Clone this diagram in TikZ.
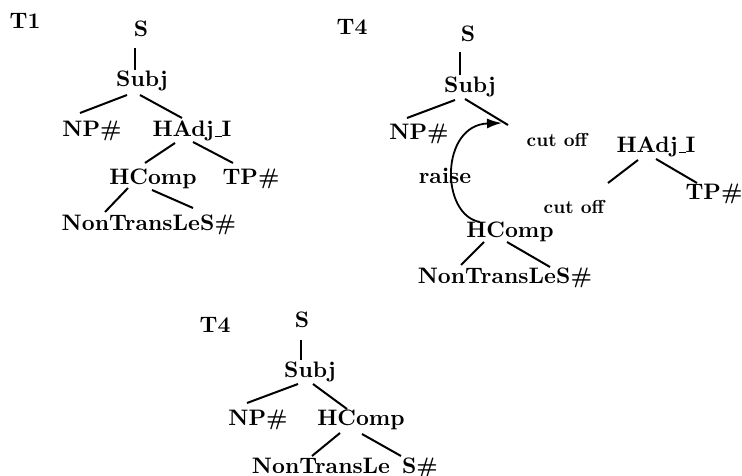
\documentclass[tikz,border=0pt]{standalone}
\usepackage{fontspec}
\usetikzlibrary{calc,arrows.meta}
% Latin Modern bold in its 10pt design, scaled up
\newfontfamily\treefont{lmroman10-bold}[Extension=.otf]
% baseline-level underscore in the OT1 manner
\newcommand\hadjbar{\kern.06em\rule{.3em}{1.4pt}}
\begin{document}
\begin{tikzpicture}[x=1pt,y=-1pt,
  lbl/.style={anchor=base,inner sep=0pt,font=\fontsize{22.4}{26}\treefont},
  small/.style={anchor=base,inner sep=0pt,font=\fontsize{18.8}{22}\treefont},
  branch/.style={line width=2pt},
  raisearrow/.style={line width=1.8pt,-{Latex[length=15pt,width=10pt]}}]
\useasboundingbox (0,0) rectangle (742,476);

% ---------------- tree T1 ----------------
\node[lbl] (t1lab) at (25,29) {T1};
\node[lbl] (s1) at (141,37) {S};
\node[lbl] (subj1) at (142,87) {Subj};
\node[lbl] (np1) at (92,137) {NP\#};
\node[lbl] (hadj1) at (192,137) {HAdj\hadjbar I};
\node[lbl] (hcomp1) at (153,185) {HComp};
\node[lbl] (tp1) at (251,185) {TP\#};
\node[lbl,anchor=base east] (ntl1) at (200,230) {NonTransLe};
\node[lbl,anchor=base west] (sh1) at (200,230) {S\#};

\draw[branch] ($(s1.base)+(-6,11)$) -- ($(subj1.base)+(-7,-17)$);
\draw[branch] ($(subj1.base)+(-15,8)$) -- ($(np1.base)+(-12,-24)$);
\draw[branch] ($(subj1.base)+(-2,8)$) -- ($(hadj1.base)+(-10,-19)$);
\draw[branch] ($(hadj1.base)+(-17,6)$) -- ($(hcomp1.base)+(-8,-22)$);
\draw[branch] ($(hadj1.base)+(1,5)$) -- ($(tp1.base)+(-18,-22)$);
\draw[branch] ($(hcomp1.base)+(-25,3)$) -- ($(ntl1.base east)+(-95,-18)$);
\draw[branch] ($(hcomp1.base)+(-1,5)$) -- ($(sh1.base west)+(-7,-22)$);

% ---------------- tree T4, split ----------------
\node[lbl] (t4lab) at (352,35) {T4};
\node[lbl] (s4) at (468,42) {S};
\node[lbl] (subj4) at (470,93) {Subj};
\node[lbl] (np4) at (419,140) {NP\#};
\node[small] (cut1) at (557,147) {cut off};
\node[lbl] (hadj4) at (656,153) {HAdj\hadjbar I};
\node[lbl] (raise) at (445,183) {raise};
\node[lbl] (tp4) at (714,200) {TP\#};
\node[small] (cut2) at (574,213) {cut off};
\node[lbl] (hcomp4) at (510,237) {HComp};
\node[lbl,anchor=base east] (ntl4) at (556,283) {NonTransLe};
\node[lbl,anchor=base west] (sh4) at (556,283) {S\#};
\coordinate (cutA) at (508,125);
\coordinate (cutB) at (608,183);

\draw[branch] ($(s4.base)+(-8,10)$) -- ($(subj4.base)+(-10,-18)$);
\draw[branch] ($(subj4.base)+(-15,7)$) -- ($(np4.base)+(-12,-22)$);
\draw[branch] ($(subj4.base)+(-5,6)$) -- (cutA);
\draw[branch] ($(hadj4.base)+(-18,7)$) -- (cutB);
\draw[branch] ($(hadj4.base)+(0,6)$) -- ($(tp4.base)+(-17,-17)$);
\draw[branch] ($(hcomp4.base)+(-26,5)$) -- ($(ntl4.base east)+(-95,-18)$);
\draw[branch] ($(hcomp4.base)+(-3,5)$) -- ($(sh4.base west)+(-6,-16)$);
\draw[raisearrow] ($(hcomp4.base)+(-30,-15)$)
   .. controls (440,215) and (440,125) .. ($(cutA)+(-6,-2)$);

% ---------------- tree T4, result ----------------
\node[lbl] (t4b) at (215,332) {T4};
\node[lbl] (sb) at (302,327) {S};
\node[lbl] (subjb) at (310,377) {Subj};
\node[lbl] (npb) at (258,425) {NP\#};
\node[lbl] (hcompb) at (361,425) {HComp};
\node[lbl] (ntlb) at (321,473) {NonTransLe};
\node[lbl] (shb) at (420,473) {S\#};

\draw[branch] ($(sb.base)+(-1,13)$) -- ($(subjb.base)+(-9,-17)$);
\draw[branch] ($(subjb.base)+(-12,7)$) -- ($(npb.base)+(-11,-22)$);
\draw[branch] ($(subjb.base)+(3,7)$) -- ($(hcompb.base)+(-14,-16)$);
\draw[branch] ($(hcompb.base)+(-21,8)$) -- ($(ntlb.base)+(-9,-17)$);
\draw[branch] ($(hcompb.base)+(1,9)$) -- ($(shb.base)+(-19,-17)$);
\end{tikzpicture}
\end{document}
